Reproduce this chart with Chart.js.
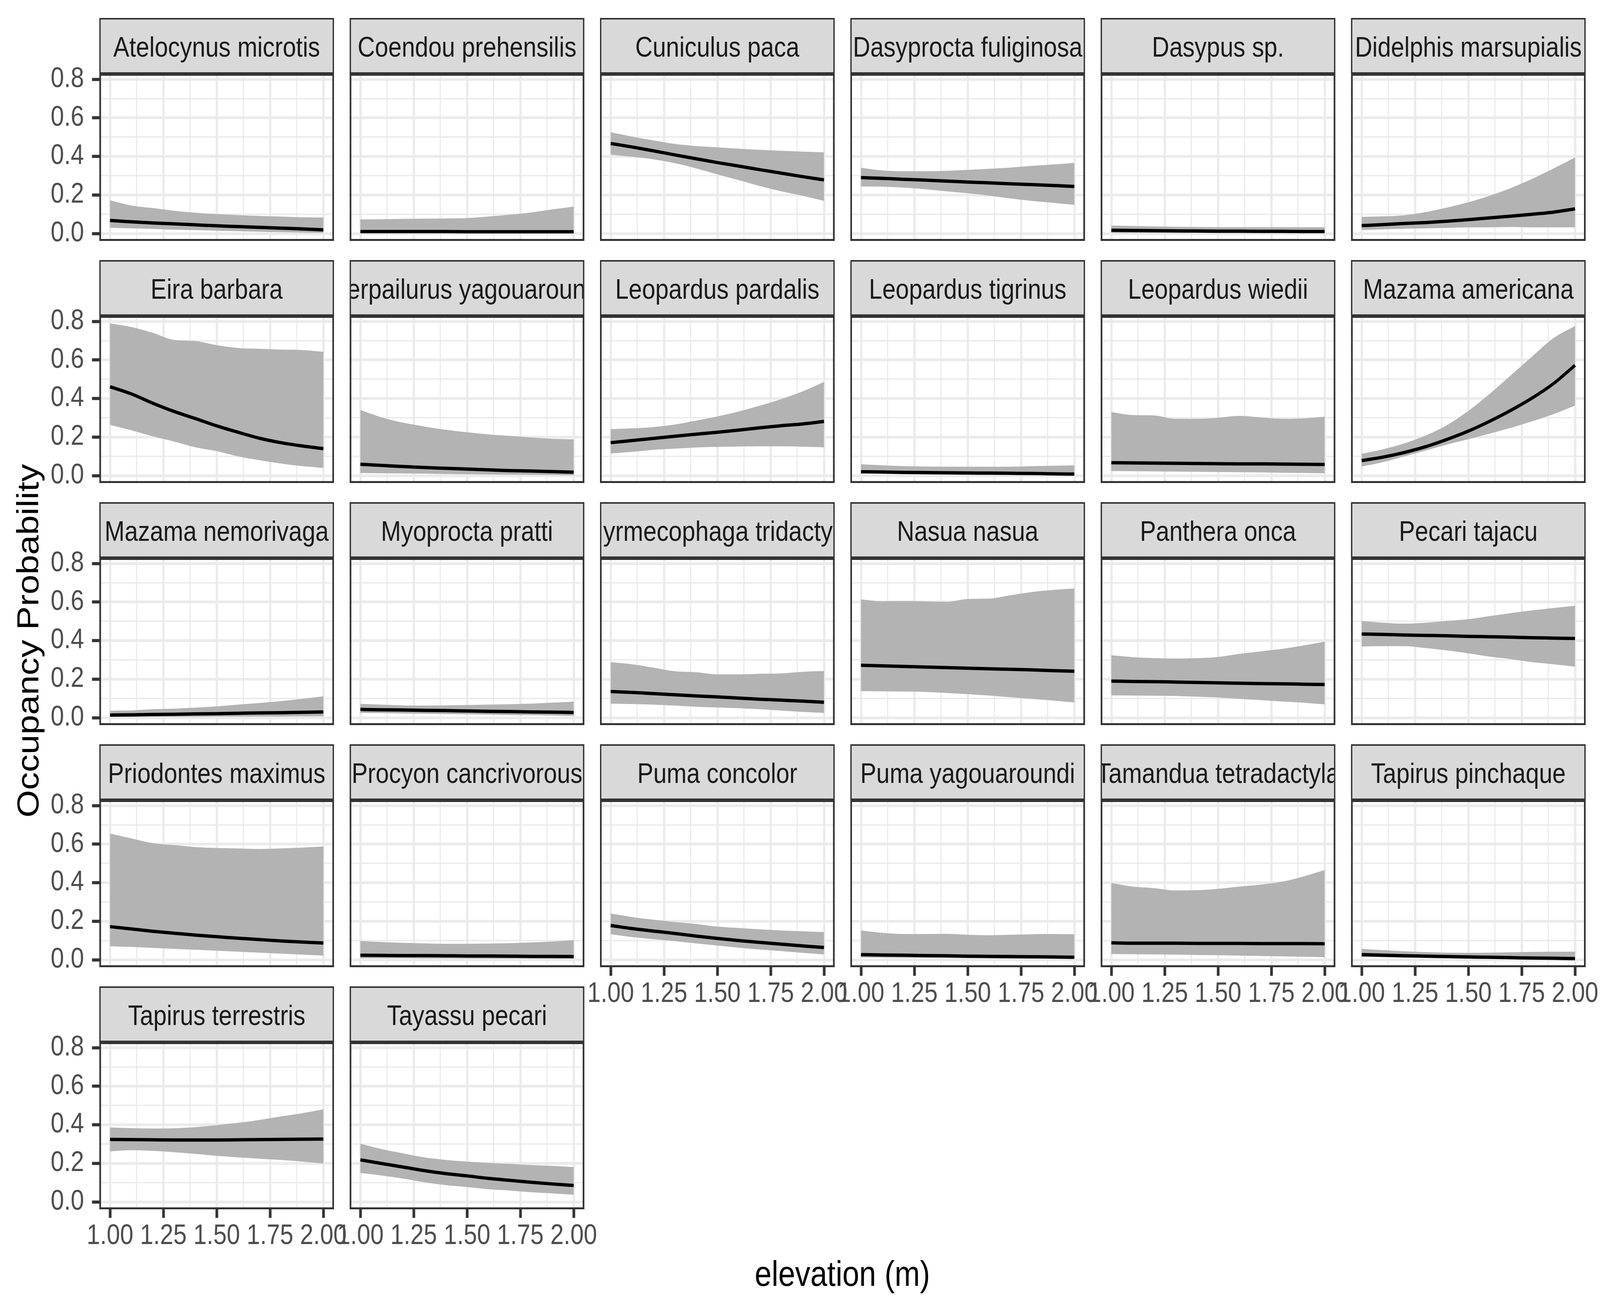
<!DOCTYPE html>
<html><head><meta charset="utf-8">
<script src="https://cdn.jsdelivr.net/npm/chart.js@4.4.1/dist/chart.umd.min.js"></script>
<style>
html,body{margin:0;padding:0;background:#fff;overflow:hidden;}
#root{position:absolute;left:0;top:0;width:4800px;height:3360px;overflow:hidden;background:#fff;font-family:"Liberation Sans",Arial,sans-serif;transform-origin:0 0;}
.strip{position:absolute;box-sizing:border-box;background:#D9D9D9;border:4.5px solid #333333;overflow:hidden;display:flex;align-items:center;justify-content:center;white-space:nowrap;color:#1A1A1A;font-size:72px;line-height:1;}
.strip span{flex:none;position:relative;top:2px;}
canvas{position:absolute;}
.title{position:absolute;color:#000;font-size:91px;white-space:nowrap;text-align:center;}
</style></head><body><div id="root"></div>
<script>
// ---------------- data ----------------
const species = ["Atelocynus microtis","Coendou prehensilis","Cuniculus paca","Dasyprocta fuliginosa","Dasypus sp.","Didelphis marsupialis",
"Eira barbara","Herpailurus yagouaroundi","Leopardus pardalis","Leopardus tigrinus","Leopardus wiedii","Mazama americana",
"Mazama nemorivaga","Myoprocta pratti","Myrmecophaga tridactyla","Nasua nasua","Panthera onca","Pecari tajacu",
"Priodontes maximus","Procyon cancrivorous","Puma concolor","Puma yagouaroundi","Tamandua tetradactyla","Tapirus pinchaque",
"Tapirus terrestris","Tayassu pecari"];
const elevation = [1.0,1.1,1.2,1.3,1.4,1.5,1.6,1.7,1.8,1.9,2.0];
const meanOcc = [
[0.068,0.061,0.055,0.050,0.045,0.040,0.036,0.032,0.028,0.024,0.019],
[0.010,0.010,0.010,0.010,0.010,0.009,0.009,0.009,0.009,0.009,0.009],
[0.467,0.449,0.429,0.408,0.388,0.368,0.350,0.331,0.313,0.295,0.278],
[0.290,0.286,0.281,0.277,0.272,0.267,0.263,0.258,0.254,0.249,0.244],
[0.017,0.016,0.015,0.014,0.013,0.012,0.012,0.011,0.011,0.010,0.010],
[0.041,0.046,0.052,0.057,0.064,0.072,0.081,0.090,0.100,0.111,0.128],
[0.461,0.424,0.376,0.333,0.296,0.258,0.225,0.194,0.171,0.154,0.140],
[0.059,0.053,0.047,0.042,0.038,0.034,0.030,0.026,0.024,0.021,0.018],
[0.171,0.182,0.193,0.204,0.215,0.225,0.236,0.248,0.259,0.268,0.281],
[0.020,0.019,0.017,0.016,0.015,0.014,0.013,0.012,0.011,0.009,0.008],
[0.067,0.066,0.065,0.064,0.063,0.062,0.061,0.061,0.060,0.059,0.058],
[0.078,0.096,0.120,0.150,0.188,0.231,0.282,0.339,0.403,0.478,0.572],
[0.014,0.015,0.017,0.018,0.020,0.021,0.023,0.025,0.026,0.028,0.030],
[0.043,0.041,0.040,0.038,0.037,0.035,0.033,0.032,0.030,0.029,0.027],
[0.136,0.131,0.125,0.119,0.113,0.108,0.102,0.096,0.091,0.086,0.080],
[0.272,0.269,0.266,0.263,0.260,0.257,0.254,0.251,0.248,0.244,0.241],
[0.190,0.188,0.187,0.185,0.183,0.181,0.179,0.177,0.176,0.174,0.172],
[0.434,0.432,0.429,0.427,0.425,0.422,0.420,0.418,0.415,0.413,0.411],
[0.172,0.160,0.148,0.138,0.128,0.120,0.112,0.105,0.098,0.092,0.087],
[0.024,0.023,0.022,0.022,0.021,0.020,0.020,0.019,0.018,0.018,0.017],
[0.178,0.162,0.149,0.137,0.123,0.111,0.100,0.090,0.081,0.072,0.064],
[0.027,0.025,0.024,0.022,0.021,0.019,0.018,0.017,0.016,0.015,0.013],
[0.088,0.086,0.086,0.086,0.085,0.085,0.085,0.084,0.084,0.084,0.083],
[0.027,0.024,0.021,0.019,0.017,0.015,0.013,0.011,0.009,0.008,0.006],
[0.324,0.323,0.322,0.321,0.321,0.321,0.322,0.323,0.324,0.325,0.326],
[0.218,0.199,0.181,0.162,0.147,0.135,0.122,0.112,0.102,0.093,0.085]
];
const lowerCI = [
[0.030,0.027,0.024,0.020,0.018,0.015,0.012,0.009,0.007,0.005,0.003],
[0.001,0.001,0.001,0.001,0.001,0.001,0.001,0.001,0.001,0.001,0.001],
[0.409,0.398,0.385,0.365,0.338,0.307,0.277,0.246,0.219,0.196,0.169],
[0.244,0.243,0.238,0.230,0.219,0.209,0.196,0.182,0.169,0.159,0.149],
[0.003,0.003,0.003,0.003,0.003,0.002,0.002,0.002,0.002,0.002,0.002],
[0.018,0.022,0.025,0.027,0.029,0.032,0.032,0.034,0.032,0.032,0.032],
[0.263,0.235,0.204,0.177,0.147,0.127,0.100,0.080,0.063,0.049,0.040],
[0.013,0.012,0.011,0.010,0.008,0.007,0.006,0.005,0.004,0.003,0.002],
[0.115,0.123,0.134,0.140,0.146,0.149,0.151,0.152,0.152,0.150,0.147],
[0.011,0.009,0.007,0.006,0.005,0.004,0.003,0.003,0.002,0.002,0.001],
[0.024,0.023,0.022,0.021,0.020,0.019,0.018,0.017,0.015,0.014,0.012],
[0.047,0.070,0.100,0.130,0.161,0.189,0.218,0.248,0.282,0.319,0.363],
[0.004,0.004,0.005,0.005,0.005,0.006,0.006,0.006,0.006,0.007,0.007],
[0.025,0.024,0.022,0.021,0.019,0.018,0.016,0.014,0.013,0.011,0.009],
[0.073,0.071,0.068,0.063,0.057,0.053,0.049,0.044,0.037,0.030,0.025],
[0.138,0.137,0.136,0.134,0.128,0.122,0.115,0.106,0.098,0.089,0.079],
[0.116,0.115,0.114,0.113,0.109,0.105,0.098,0.091,0.084,0.078,0.069],
[0.369,0.371,0.371,0.361,0.349,0.334,0.317,0.304,0.288,0.277,0.265],
[0.070,0.067,0.062,0.057,0.052,0.047,0.042,0.037,0.032,0.027,0.022],
[0.008,0.008,0.008,0.007,0.007,0.007,0.006,0.006,0.006,0.005,0.005],
[0.132,0.118,0.107,0.097,0.085,0.074,0.063,0.053,0.045,0.036,0.028],
[0.012,0.011,0.010,0.010,0.009,0.008,0.007,0.006,0.006,0.005,0.004],
[0.030,0.029,0.028,0.027,0.025,0.024,0.022,0.020,0.018,0.016,0.014],
[0.015,0.013,0.011,0.010,0.008,0.007,0.006,0.005,0.004,0.003,0.003],
[0.262,0.268,0.265,0.258,0.249,0.239,0.231,0.224,0.218,0.209,0.199],
[0.150,0.137,0.121,0.102,0.087,0.077,0.066,0.059,0.050,0.044,0.037]
];
const upperCI = [
[0.172,0.145,0.132,0.118,0.108,0.101,0.096,0.091,0.088,0.084,0.083],
[0.073,0.074,0.076,0.077,0.078,0.080,0.088,0.098,0.109,0.125,0.140],
[0.525,0.503,0.483,0.465,0.454,0.447,0.440,0.434,0.429,0.425,0.421],
[0.341,0.327,0.323,0.323,0.325,0.330,0.336,0.342,0.351,0.358,0.366],
[0.041,0.039,0.037,0.035,0.034,0.033,0.033,0.033,0.033,0.033,0.033],
[0.086,0.089,0.095,0.111,0.135,0.162,0.196,0.236,0.284,0.338,0.395],
[0.789,0.771,0.741,0.704,0.698,0.677,0.662,0.658,0.654,0.652,0.642],
[0.341,0.302,0.275,0.255,0.238,0.225,0.214,0.206,0.198,0.191,0.188],
[0.241,0.245,0.252,0.265,0.285,0.307,0.333,0.363,0.397,0.437,0.486],
[0.059,0.054,0.049,0.047,0.046,0.046,0.046,0.046,0.049,0.051,0.053],
[0.329,0.314,0.312,0.295,0.295,0.300,0.310,0.302,0.295,0.297,0.306],
[0.113,0.137,0.167,0.208,0.262,0.336,0.424,0.521,0.619,0.714,0.776],
[0.036,0.038,0.044,0.047,0.052,0.059,0.068,0.076,0.086,0.098,0.111],
[0.072,0.068,0.064,0.063,0.064,0.066,0.068,0.070,0.073,0.078,0.083],
[0.288,0.277,0.260,0.241,0.236,0.225,0.225,0.228,0.230,0.238,0.242],
[0.614,0.604,0.605,0.603,0.601,0.616,0.618,0.635,0.652,0.663,0.670],
[0.324,0.314,0.309,0.307,0.309,0.315,0.331,0.344,0.357,0.375,0.394],
[0.502,0.493,0.488,0.493,0.502,0.511,0.527,0.543,0.557,0.569,0.581],
[0.655,0.630,0.605,0.595,0.585,0.580,0.578,0.575,0.578,0.582,0.588],
[0.098,0.092,0.088,0.085,0.083,0.083,0.084,0.086,0.090,0.095,0.102],
[0.240,0.222,0.208,0.196,0.186,0.172,0.165,0.158,0.152,0.148,0.144],
[0.152,0.140,0.134,0.134,0.135,0.130,0.127,0.130,0.133,0.134,0.133],
[0.398,0.380,0.372,0.360,0.361,0.368,0.380,0.390,0.405,0.432,0.466],
[0.057,0.050,0.044,0.040,0.037,0.036,0.037,0.039,0.041,0.042,0.042],
[0.386,0.383,0.381,0.382,0.388,0.398,0.410,0.425,0.443,0.460,0.480],
[0.302,0.274,0.252,0.231,0.218,0.209,0.202,0.197,0.191,0.187,0.181]
];
const xTickValues = [1.00,1.25,1.50,1.75,2.00];
const xTickLabels = ["1.00","1.25","1.50","1.75","2.00"];
const xMinorTicks = [1.125,1.375,1.625,1.875];
const yTickValues = [0.0,0.2,0.4,0.6,0.8];
const yTickLabels = ["0.0","0.2","0.4","0.6","0.8"];
const yMinorTicks = [0.1,0.3,0.5,0.7];
const xTitle = "elevation (m)";
const yTitle = "Occupancy Probability";

// ---------------- layout: drawn on a 4800 x 3360 design grid, fitted to the viewport ----------------
const FONT = '"Liberation Sans", Arial, sans-serif';
const NCOL = 6, COL_LEFT0 = 298, COL_STEP = 751, PW = 704;
const STRIP_TOP0 = 46, ROW_STEP = 620, STRIP_H = 143, PH = 428;
const X_MIN = 0.95, X_MAX = 2.05, Y_MIN = -0.0384, Y_MAX = 0.8285;
const YAXIS_W = 200, XAXIS_H = 130, PADX = 90, PADY = 90;
const GRID_MAJOR = 7, GRID_MINOR = 3.5, BORDER_W = 5, TICK_W = 8, TICK_LEN = 22, LINE_W = 8.5;

const root = document.getElementById('root');
const SX = (window.innerWidth || 4800) / 4800, SY = (window.innerHeight || 3360) / 3360;
root.style.transform = 'scale(' + SX + ',' + SY + ')';

const near = (v, arr) => arr.findIndex(t => Math.abs(t - v) < 1e-9);
const allX = xTickValues.concat(xMinorTicks).sort((a,b)=>a-b);
const allY = yTickValues.concat(yMinorTicks).sort((a,b)=>a-b);

const panelBorder = {
  id: 'panelBorder',
  afterDraw(chart) {
    const {ctx, chartArea: a} = chart;
    ctx.save();
    ctx.strokeStyle = '#333333';
    ctx.lineWidth = BORDER_W;
    ctx.strokeRect(a.left + BORDER_W/2, a.top + BORDER_W/2, a.right - a.left - BORDER_W, a.bottom - a.top - BORDER_W);
    ctx.restore();
  }
};

species.forEach((name, i) => {
  const r = Math.floor(i / NCOL), c = i % NCOL;
  const isLeft = c === 0;
  const isBottom = i + NCOL >= species.length;
  const px = COL_LEFT0 + c * COL_STEP;
  const stripTop = STRIP_TOP0 + r * ROW_STEP;
  const py = stripTop + STRIP_H;

  const strip = document.createElement('div');
  strip.className = 'strip';
  strip.style.left = px + 'px'; strip.style.top = stripTop + 'px';
  strip.style.width = PW + 'px'; strip.style.height = STRIP_H + 'px';
  const sp = document.createElement('span'); sp.textContent = name; strip.appendChild(sp);
  root.appendChild(strip);

  const L = isLeft ? YAXIS_W : PADX;
  const B = isBottom ? XAXIS_H : PADY;
  const cw = L + PW + PADX, ch = PADY + PH + B;
  const cv = document.createElement('canvas');
  cv.width = cw; cv.height = ch;
  cv.style.width = cw + 'px'; cv.style.height = ch + 'px';
  cv.style.left = (px - L) + 'px'; cv.style.top = (py - PADY) + 'px';
  root.appendChild(cv);

  const pts = arr => elevation.map((x, k) => ({x: x, y: arr[k]}));
  new Chart(cv, {
    type: 'line',
    data: { datasets: [
      { data: pts(meanOcc[i]), order: 0, borderWidth: LINE_W, borderColor: '#000000', pointRadius: 0, fill: false, cubicInterpolationMode: 'monotone', borderCapStyle: 'butt' },
      { data: pts(upperCI[i]), order: 1, borderWidth: 0, borderColor: 'rgba(0,0,0,0)', pointRadius: 0, fill: '+1', backgroundColor: '#B3B3B3', cubicInterpolationMode: 'monotone' },
      { data: pts(lowerCI[i]), order: 2, borderWidth: 0, borderColor: 'rgba(0,0,0,0)', pointRadius: 0, fill: false, cubicInterpolationMode: 'monotone' }
    ]},
    options: {
      responsive: false, animation: false, devicePixelRatio: 1, events: [],
      layout: { padding: { left: isLeft ? 0 : PADX, right: PADX, top: PADY, bottom: isBottom ? 0 : PADY } },
      plugins: { legend: { display: false }, tooltip: { enabled: false } },
      scales: {
        x: {
          type: 'linear', min: X_MIN, max: X_MAX,
          afterBuildTicks: s => { s.ticks = allX.map(v => ({value: v})); },
          afterFit: s => { s.height = isBottom ? XAXIS_H : 0; },
          ticks: { display: isBottom, autoSkip: false, maxRotation: 0, minRotation: 0, padding: 4, color: '#4D4D4D',
                   font: { family: FONT, size: 72 },
                   callback: v => { const j = near(v, xTickValues); return j >= 0 ? xTickLabels[j] : ''; } },
          grid: { color: '#EBEBEB', drawTicks: isBottom, tickLength: TICK_LEN, tickWidth: TICK_W,
                  lineWidth: ctx => near(ctx.tick.value, xTickValues) >= 0 ? GRID_MAJOR : GRID_MINOR,
                  tickColor: ctx => near(ctx.tick.value, xTickValues) >= 0 ? '#333333' : 'rgba(0,0,0,0)' },
          border: { display: false }
        },
        y: {
          type: 'linear', min: Y_MIN, max: Y_MAX,
          afterBuildTicks: s => { s.ticks = allY.map(v => ({value: v})); },
          afterFit: s => { s.width = isLeft ? YAXIS_W : 0; },
          ticks: { display: isLeft, autoSkip: false, padding: 24, color: '#4D4D4D',
                   font: { family: FONT, size: 72 },
                   callback: v => { const j = near(v, yTickValues); return j >= 0 ? yTickLabels[j] : ''; } },
          grid: { color: '#EBEBEB', drawTicks: isLeft, tickLength: TICK_LEN, tickWidth: TICK_W,
                  lineWidth: ctx => near(ctx.tick.value, yTickValues) >= 0 ? GRID_MAJOR : GRID_MINOR,
                  tickColor: ctx => near(ctx.tick.value, yTickValues) >= 0 ? '#333333' : 'rgba(0,0,0,0)' },
          border: { display: false }
        }
      }
    },
    plugins: [panelBorder]
  });
});

// axis titles
const xt = document.createElement('div');
xt.className = 'title'; xt.textContent = xTitle;
xt.style.left = (2527 - 600) + 'px'; xt.style.width = '1200px';
xt.style.top = '3216px'; xt.style.lineHeight = '91px';
root.appendChild(xt);

const yt = document.createElement('div');
yt.className = 'title'; yt.textContent = yTitle;
yt.style.width = '1200px'; yt.style.height = '100px'; yt.style.lineHeight = '100px';
yt.style.left = (84 - 600) + 'px'; yt.style.top = (1641 - 50) + 'px';
yt.style.transform = 'rotate(-90deg)';
root.appendChild(yt);
</script>
</body></html>
